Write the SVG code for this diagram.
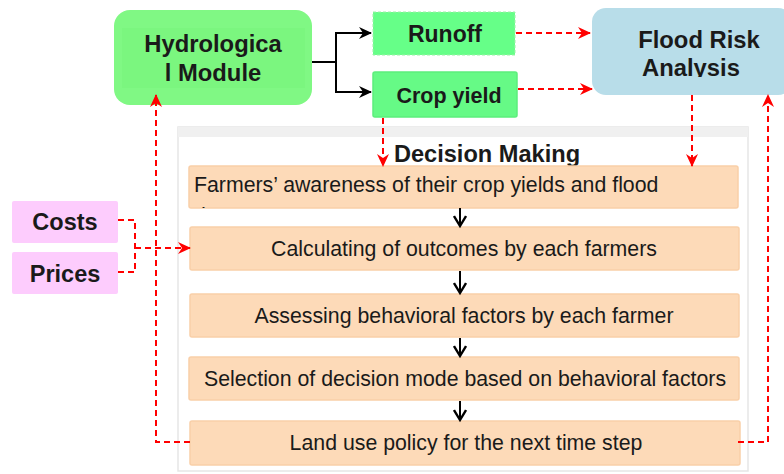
<svg xmlns="http://www.w3.org/2000/svg" width="784" height="474" viewBox="0 0 784 474">
<style>
.t{font-family:"Liberation Sans",Arial,sans-serif;fill:#1a1a1a}
.b{font-weight:bold}
.s{font-size:21.3px}
.red{stroke:#ff0000;stroke-width:2;stroke-dasharray:6,4;fill:none}
.blk{stroke:#000;stroke-width:2;fill:none}
.step{fill:#fddab8;stroke:#f9cfa8;stroke-width:1.5}
.pink{fill:#fdccfd}
</style>
<defs>
<marker id="ra" markerWidth="14" markerHeight="12" refX="12" refY="6" orient="auto" markerUnits="userSpaceOnUse"><path d="M0,0 L13,6 L0,12 L4,6 Z" fill="#ff0000"/></marker>
<marker id="ba" markerWidth="14" markerHeight="12" refX="12" refY="6" orient="auto" markerUnits="userSpaceOnUse"><path d="M0,0 L13,6 L0,12 L4,6 Z" fill="#000"/></marker>
<marker id="va" markerWidth="14" markerHeight="14" refX="11" refY="7" orient="auto" markerUnits="userSpaceOnUse"><path d="M1,1 L11,7 L1,13" fill="none" stroke="#000" stroke-width="2.4"/></marker>
<clipPath id="fc"><rect x="592" y="8" width="192" height="69"/></clipPath>
<clipPath id="b1"><rect x="189" y="166" width="550" height="42"/></clipPath>
</defs>

<g id="container">
<rect x="178" y="127" width="570" height="344" fill="#fff" stroke="#e6e6e6" stroke-width="1.5"/>
<rect x="178" y="127" width="570" height="10" fill="#f0f0f0"/>
<text class="t b" x="487" y="162" font-size="23.6" text-anchor="middle">Decision Making</text>
</g>

<g id="hydro">
<rect x="114" y="10" width="198" height="95" rx="16" fill="#80f884"/>
<rect x="122" y="28" width="183" height="60" fill="#7bf67f"/>
<text class="t b" x="213" y="52" font-size="23.8" text-anchor="middle">Hydrologica</text>
<text class="t b" x="213" y="81" font-size="23.8" text-anchor="middle">l Module</text>
</g>

<g id="runoff">
<rect x="373" y="12" width="142" height="43" fill="#66ff88" stroke="#9ef0a8" stroke-width="1" stroke-dasharray="3,2"/>
<text class="t b" x="445" y="42" font-size="23" text-anchor="middle">Runoff</text>
</g>

<g id="crop">
<rect x="373" y="72" width="144" height="45" rx="2" fill="#66fa86" stroke="#5cee7c" stroke-width="1.5"/>
<text class="t b" x="449" y="103" font-size="21.5" text-anchor="middle">Crop yield</text>
</g>

<g id="flood">
<rect x="592" y="8" width="200" height="87" rx="14" fill="#b8dde9"/>
<g clip-path="url(#fc)">
<text class="t b" x="699" y="48" font-size="23.8" text-anchor="middle">Flood Risk</text>
<text class="t b" x="691" y="76" font-size="23.8" text-anchor="middle">Analysis</text>
</g>
</g>

<g id="costs">
<rect class="pink" x="12" y="201" width="106" height="42" rx="2"/>
<text class="t b" x="65" y="230" font-size="23.5" text-anchor="middle">Costs</text>
</g>
<g id="prices">
<rect class="pink" x="12" y="252" width="106" height="42" rx="2"/>
<text class="t b" x="65" y="282" font-size="23.5" text-anchor="middle">Prices</text>
</g>

<g id="s1">
<rect class="step" x="189" y="166" width="549" height="42" rx="2"/>
<g clip-path="url(#b1)">
<text class="t s" x="194" y="192">Farmers’ awareness of their crop yields and flood</text>
<text class="t s" x="194" y="223">damage</text>
</g>
</g>
<g id="s2">
<rect class="step" x="190" y="227" width="549" height="43" rx="2"/>
<text class="t s" x="464" y="256" text-anchor="middle">Calculating of outcomes by each farmers</text>
</g>
<g id="s3">
<rect class="step" x="190" y="294" width="549" height="43" rx="2"/>
<text class="t s" x="464" y="323" text-anchor="middle">Assessing behavioral factors by each farmer</text>
</g>
<g id="s4">
<rect class="step" x="189" y="357" width="550" height="43" rx="2"/>
<text class="t s" x="465" y="386" text-anchor="middle">Selection of decision mode based on behavioral factors</text>
</g>
<g id="s5">
<rect class="step" x="190" y="421" width="550" height="44" rx="2"/>
<text class="t s" x="466" y="450" text-anchor="middle">Land use policy for the next time step</text>
</g>

<g id="connectors">
<path class="blk" d="M312,62 H336 V33 H371" marker-end="url(#ba)"/>
<path class="blk" d="M336,62 V92 H371" marker-end="url(#ba)"/>
<path class="red" d="M516,33 H590" marker-end="url(#ra)"/>
<path class="red" d="M518,89 H592" marker-end="url(#ra)"/>
<path class="red" d="M383,118 V166" marker-end="url(#ra)"/>
<path class="red" d="M692,95 V166" marker-end="url(#ra)"/>
<path class="red" d="M118,220 H135 V272 H118"/>
<path class="red" d="M135,248 H190" marker-end="url(#ra)"/>
<path class="red" d="M190,442 H156 V95" marker-end="url(#ra)"/>
<path class="red" d="M738,442 H768 V95" marker-end="url(#ra)"/>
<path class="blk" d="M460,208 V226" marker-end="url(#va)"/>
<path class="blk" d="M460,271 V293" marker-end="url(#va)"/>
<path class="blk" d="M460,338 V356" marker-end="url(#va)"/>
<path class="blk" d="M460,401 V420" marker-end="url(#va)"/>
</g>
</svg>
